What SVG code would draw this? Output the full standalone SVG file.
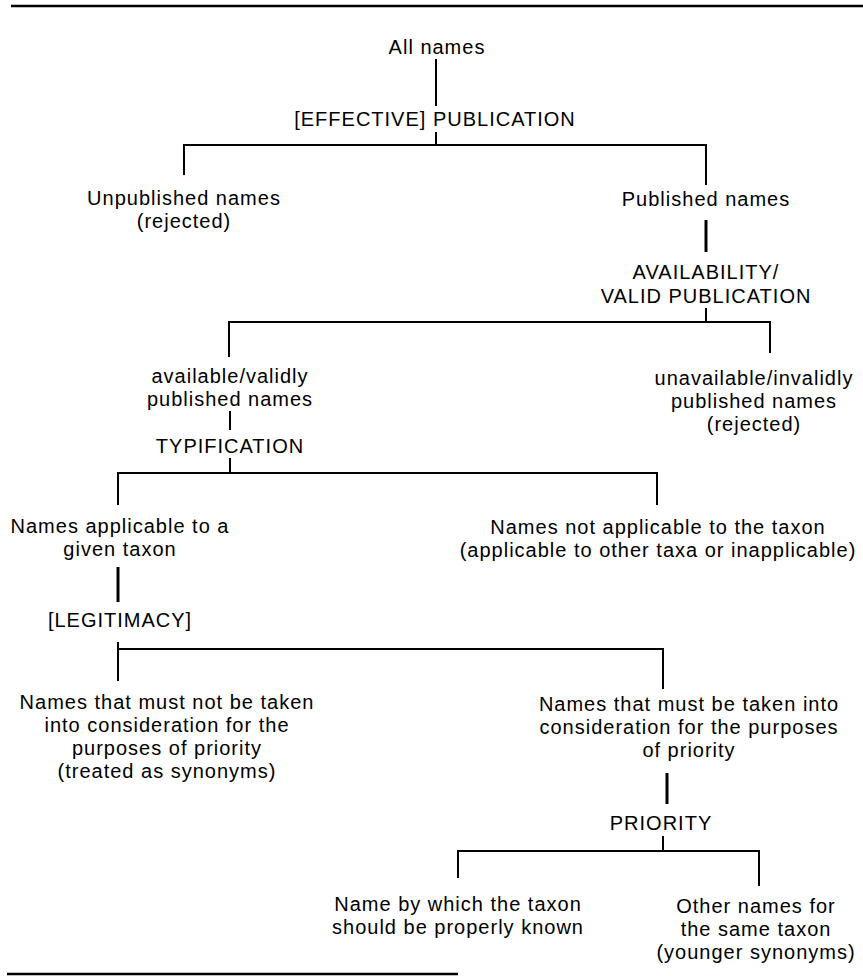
<svg xmlns="http://www.w3.org/2000/svg" width="863" height="976" viewBox="0 0 863 976">
<style>
  text { font-family: "Liberation Sans", Arial, sans-serif; font-size: 20px; letter-spacing: 1px; fill: #000; text-anchor: middle; }
  .ln { stroke: #000; stroke-width: 2; fill: none; }
  .thick { stroke-width: 3; }
  .rule { stroke: #000; stroke-width: 2.5; }
</style>
<rect x="0" y="0" width="863" height="976" fill="#fff"/>
<g id="rules">
  <line class="rule" x1="11" y1="6" x2="863" y2="6"/>
  <line class="rule" x1="7" y1="974" x2="458" y2="974"/>
</g>
<g id="connectors">
  <line class="ln" x1="436" y1="59" x2="436" y2="106"/>
  <line class="ln" x1="436" y1="132" x2="436" y2="145"/>
  <polyline class="ln" points="184,175 184,145 706,145 706,185"/>
  <line class="ln thick" x1="706" y1="220" x2="706" y2="252"/>
  <line class="ln" x1="706" y1="308" x2="706" y2="322"/>
  <polyline class="ln" points="229,357 229,322 770,322 770,353"/>
  <line class="ln" x1="230" y1="411" x2="230" y2="430"/>
  <line class="ln" x1="230" y1="458" x2="230" y2="473"/>
  <polyline class="ln" points="118,505 118,473 657,473 657,505"/>
  <line class="ln thick" x1="118" y1="567" x2="118" y2="602"/>
  <line class="ln" x1="118" y1="642" x2="118" y2="681"/>
  <polyline class="ln" points="118,649 663,649 663,689"/>
  <line class="ln thick" x1="667" y1="773" x2="667" y2="804"/>
  <line class="ln" x1="663" y1="836" x2="663" y2="851"/>
  <polyline class="ln" points="458,878 458,851 759,851 759,886"/>
</g>
<g id="all-names"><text x="437" y="54">All names</text></g>
<g id="effective-publication"><text x="435" y="126">[EFFECTIVE] PUBLICATION</text></g>
<g id="unpublished"><text x="184" y="205">Unpublished names</text><text x="184" y="228">(rejected)</text></g>
<g id="published"><text x="706" y="206">Published names</text></g>
<g id="availability"><text x="706" y="279">AVAILABILITY/</text><text x="706" y="303">VALID PUBLICATION</text></g>
<g id="available"><text x="230" y="383">available/validly</text><text x="230" y="406">published names</text></g>
<g id="unavailable"><text x="754" y="385">unavailable/invalidly</text><text x="754" y="408">published names</text><text x="754" y="431">(rejected)</text></g>
<g id="typification"><text x="230" y="453">TYPIFICATION</text></g>
<g id="applicable"><text x="120" y="533">Names applicable to a</text><text x="120" y="556">given taxon</text></g>
<g id="not-applicable"><text x="658" y="534">Names not applicable to the taxon</text><text x="658" y="557">(applicable to other taxa or inapplicable)</text></g>
<g id="legitimacy"><text x="120" y="627">[LEGITIMACY]</text></g>
<g id="not-considered"><text x="167" y="709">Names that must not be taken</text><text x="167" y="732">into consideration for the</text><text x="167" y="755">purposes of priority</text><text x="167" y="778">(treated as synonyms)</text></g>
<g id="considered"><text x="689" y="711">Names that must be taken into</text><text x="689" y="734">consideration for the purposes</text><text x="689" y="757">of priority</text></g>
<g id="priority"><text x="661" y="830">PRIORITY</text></g>
<g id="proper-name"><text x="458" y="911">Name by which the taxon</text><text x="458" y="934">should be properly known</text></g>
<g id="other-names"><text x="756" y="913">Other names for</text><text x="756" y="936">the same taxon</text><text x="756" y="959">(younger synonyms)</text></g>
</svg>
